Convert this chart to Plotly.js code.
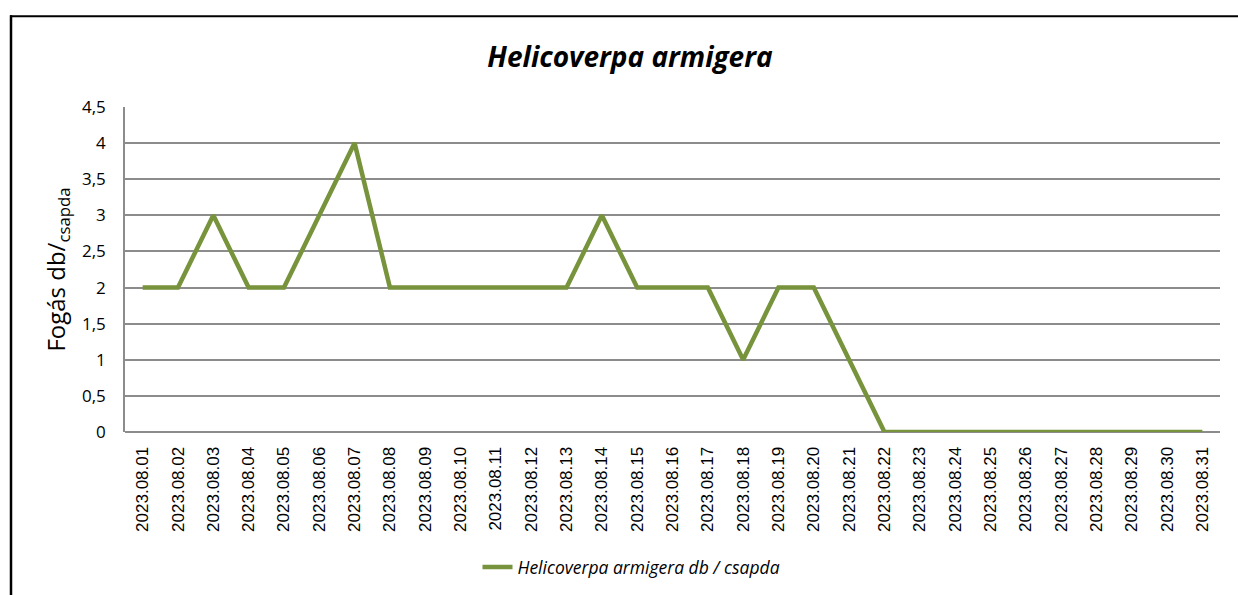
<!DOCTYPE html>
<html>
<head>
<meta charset="utf-8">
<script src="https://cdn.plot.ly/plotly-3.0.1.min.js"></script>
<style>
html,body{margin:0;padding:0;background:#fff;}
#chart{width:1238px;height:595px;}
</style>
</head>
<body>
<div id="chart"></div>
<script>
const dates = ["2023.08.01","2023.08.02","2023.08.03","2023.08.04","2023.08.05","2023.08.06","2023.08.07","2023.08.08","2023.08.09","2023.08.10","2023.08.11","2023.08.12","2023.08.13","2023.08.14","2023.08.15","2023.08.16","2023.08.17","2023.08.18","2023.08.19","2023.08.20","2023.08.21","2023.08.22","2023.08.23","2023.08.24","2023.08.25","2023.08.26","2023.08.27","2023.08.28","2023.08.29","2023.08.30","2023.08.31"];
const catches = [2,2,3,2,2,3,4,2,2,2,2,2,2,3,2,2,2,1,2,2,1,0,0,0,0,0,0,0,0,0,0];
const seriesName = "Helicoverpa armigera db / csapda";
const chartTitle = "Helicoverpa armigera";
const yTitle = "Fogás db/<sub>csapda</sub>";

const W = 1238, H = 595;
const m = {l:125, r:18, t:107, b:162};
const pw = W - m.l - m.r, ph = H - m.t - m.b;
const px = x => (x - m.l) / pw;
const py = y => (H - m.b - y) / ph;

Plotly.newPlot('chart', [{
  x: dates, y: catches, type: 'scatter', mode: 'lines', name: seriesName,
  line: {color: '#77933C', width: 4.5}
}], {
  width: W, height: H,
  margin: m,
  separators: ', ',
  paper_bgcolor: '#fff', plot_bgcolor: '#fff',
  showlegend: true,
  title: {text: '<b><i>' + chartTitle + '</i></b>', font: {family: 'Open Sans', size: 28, color: '#000'}, x: px(630), xanchor: 'center', xref: 'paper', y: 1 - 57/H, yanchor: 'middle'},
  xaxis: {
    type: 'category', range: [-0.5, 30.5], tickangle: -90,
    tickfont: {family: 'Liberation Sans', size: 17, color: '#000'},
    showgrid: false, showline: false, zeroline: false,
    ticks: 'outside', ticklen: 7, tickcolor: 'rgba(0,0,0,0)'
  },
  yaxis: {
    range: [0, 4.5], dtick: 0.5, tick0: 0,
    showgrid: true, gridcolor: '#8c8c8c', gridwidth: 1.5,
    showline: true, linecolor: '#8c8c8c', linewidth: 1.5,
    zeroline: true, zerolinecolor: '#8c8c8c', zerolinewidth: 1.5,
    ticks: 'outside', ticklen: 14, tickcolor: 'rgba(0,0,0,0)',
    tickfont: {family: 'Open Sans', size: 17, color: '#000'},
    title: {text: yTitle, font: {family: 'Open Sans', size: 24, color: '#000'}, standoff: 10}
  },
  legend: {orientation: 'h', x: px(637), xanchor: 'center', y: py(567), yanchor: 'middle',
    font: {family: 'Open Sans', size: 17.5, color: '#000'}},
  shapes: [
    {type:'line', xref:'paper', yref:'paper', x0: px(11), x1: px(11), y0: py(15), y1: py(600), line:{color:'#000', width:2.5}},
    {type:'line', xref:'paper', yref:'paper', x0: px(10), x1: px(1240), y0: py(16), y1: py(16), line:{color:'#000', width:2}}
  ]
}, {displayModeBar: false}).then(() => {
  document.querySelectorAll('.legendtext').forEach(t => t.style.fontStyle = 'italic');
});
</script>
</body>
</html>
